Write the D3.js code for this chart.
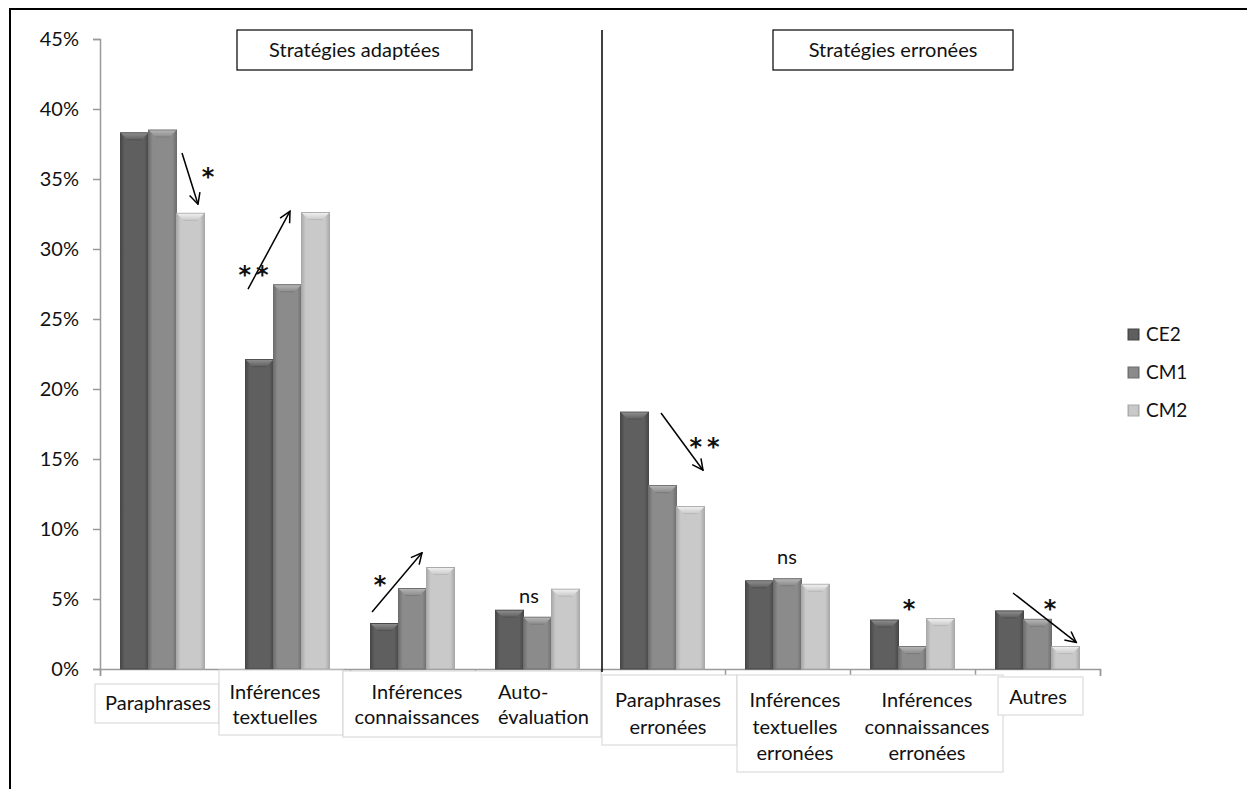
<!DOCTYPE html>
<html>
<head>
<meta charset="utf-8">
<script src="https://cdn.jsdelivr.net/npm/d3@7"></script>
<style>
  html, body { margin: 0; padding: 0; background: #fff; }
  svg { display: block; }
  text { font-family: Lato, "Open Sans", sans-serif; fill: #111; }
</style>
</head>
<body>
<svg id="chart" width="1247" height="789"></svg>
<script>
// ---------- data ----------
const categories = [
  ["Paraphrases"],
  ["Inférences", "textuelles"],
  ["Inférences", "connaissances"],
  ["Auto-", "évaluation"],
  ["Paraphrases", "erronées"],
  ["Inférences", "textuelles", "erronées"],
  ["Inférences", "connaissances", "erronées"],
  ["Autres"]
];
const seriesNames = ["CE2", "CM1", "CM2"];
const ce2 = [38.3, 22.1, 3.25, 4.2, 18.35, 6.3, 3.5, 4.15];
const cm1 = [38.5, 27.45, 5.75, 3.7, 13.1, 6.45, 1.6, 3.55];
const cm2 = [32.55, 32.6, 7.25, 5.7, 11.6, 6.05, 3.6, 1.6];
const yTicks = [0, 5, 10, 15, 20, 25, 30, 35, 40, 45];
const sectionTitles = ["Stratégies adaptées", "Stratégies erronées"];
// significance annotations (x in category units, y in %)
const arrows = [
  { x1: 0.656, v1: 36.86, x2: 0.784, v2: 33.2 },
  { x1: 1.184, v1: 27.14, x2: 1.52, v2: 32.7 },
  { x1: 2.176, v1: 4.07, x2: 2.576, v2: 8.3 },
  { x1: 4.488, v1: 18.29, x2: 4.824, v2: 14.2 },
  { x1: 7.304, v1: 5.43, x2: 7.81, v2: 1.9 }
];
const marks = [
  { x: 0.864, v: 35.6, t: "*" },
  { x: 1.248, v: 28.6, t: "**" },
  { x: 2.24, v: 6.5, t: "*" },
  { x: 3.432, v: 5.2, t: "ns" },
  { x: 4.856, v: 16.35, t: "**" },
  { x: 5.496, v: 8.0, t: "ns" },
  { x: 6.472, v: 4.8, t: "*" },
  { x: 7.6, v: 4.8, t: "*" }
];

// ---------- layout ----------
const values = [ce2, cm1, cm2];
const colors = { CE2: "#5f5f5f", CM1: "#8b8b8b", CM2: "#c9c9c9" };
const light  = { CE2: "#8c8c8c", CM1: "#b4b4b4", CM2: "#eeeeee" };
const dark   = { CE2: "#474747", CM1: "#6e6e6e", CM2: "#a9a9a9" };
const FS = "20px";

const svg = d3.select("#chart");
const X0 = 100, X1 = 1100, Y0 = 669, Y1 = 39;

const y = d3.scaleLinear().domain([0, 45]).range([Y0, Y1]);
const xCat = d3.scaleBand().domain(d3.range(categories.length)).range([X0, X1])
  .paddingInner(0.328).paddingOuter(0.164);
const xSer = d3.scaleBand().domain(seriesNames).range([0, xCat.bandwidth()]).padding(0);
const xLin = d3.scaleLinear().domain([0, categories.length]).range([X0, X1]);

// gradients
const defs = svg.append("defs");
seriesNames.forEach(s => {
  const g = defs.append("linearGradient").attr("id", "g" + s).attr("x1", "0").attr("x2", "1").attr("y1", "0").attr("y2", "0");
  g.append("stop").attr("offset", "0").attr("stop-color", dark[s]);
  g.append("stop").attr("offset", "0.15").attr("stop-color", colors[s]);
  g.append("stop").attr("offset", "0.85").attr("stop-color", colors[s]);
  g.append("stop").attr("offset", "1").attr("stop-color", dark[s]);
  const t = defs.append("linearGradient").attr("id", "t" + s).attr("x1", "0").attr("x2", "0").attr("y1", "0").attr("y2", "1");
  t.append("stop").attr("offset", "0").attr("stop-color", light[s]);
  t.append("stop").attr("offset", "1").attr("stop-color", colors[s]);
});
defs.append("marker").attr("id", "arr").attr("viewBox", "0 0 12 12")
  .attr("refX", 11).attr("refY", 6).attr("markerWidth", 13).attr("markerHeight", 13)
  .attr("markerUnits", "userSpaceOnUse").attr("orient", "auto")
  .append("path").attr("d", "M1,1 L11,6 L1,11").attr("fill", "none").attr("stroke", "#000").attr("stroke-width", 1.4);

// outer frame
svg.append("rect").attr("x", 10).attr("y", 9).attr("width", 1400).attr("height", 900)
  .attr("fill", "none").attr("stroke", "#000").attr("stroke-width", 2);

// y axis
const yAxis = svg.append("g").attr("transform", `translate(${X0},0)`)
  .call(d3.axisLeft(y).tickValues(yTicks).tickFormat(d => d + "%").tickSize(7).tickPadding(14));
yAxis.selectAll("path, line").attr("stroke", "#9a9a9a").attr("stroke-width", 1.5);
yAxis.selectAll("text").style("font-size", FS).style("font-family", "Lato, 'Open Sans', sans-serif").attr("fill", "#111");

// x axis (category boundaries)
const xAxis = svg.append("g").attr("transform", `translate(0,${Y0})`)
  .call(d3.axisBottom(xLin).tickValues(d3.range(categories.length + 1)).tickFormat("").tickSize(7));
xAxis.selectAll("path, line").attr("stroke", "#9a9a9a").attr("stroke-width", 1.5);

// bars
const bev = 7;
const groups = svg.append("g").selectAll("g").data(categories).join("g")
  .attr("transform", (d, i) => `translate(${xCat(i)},0)`);
groups.each(function (d, i) {
  const g = d3.select(this);
  seriesNames.forEach((s, si) => {
    const v = values[si][i];
    const x0 = xSer(s), w = xSer.bandwidth(), top = y(v);
    g.append("rect").attr("x", x0).attr("y", top).attr("width", w).attr("height", Y0 - top)
      .attr("fill", `url(#g${s})`).attr("stroke", dark[s]).attr("stroke-width", 1);
    g.append("path")
      .attr("d", `M${x0 + 0.5},${top + 0.5} L${x0 + w - 0.5},${top + 0.5} L${x0 + w - bev},${top + bev} L${x0 + bev},${top + bev} Z`)
      .attr("fill", `url(#t${s})`).attr("stroke", "none");
    g.append("line").attr("x1", x0 + bev).attr("x2", x0 + w - bev).attr("y1", top + bev).attr("y2", top + bev)
      .attr("stroke", dark[s]).attr("stroke-width", 1).attr("opacity", 0.5);
  });
});

// category label boxes
const labelBoxes = [
  { x: 95, y: 684, w: 124, h: 39 },
  { x: 219, y: 670, w: 124, h: 65 },
  { x: 343, y: 671, w: 258, h: 66 },
  { x: 602, y: 675, w: 135, h: 70 },
  { x: 737, y: 675, w: 266, h: 97 },
  { x: 998, y: 677, w: 85, h: 38 }
];
svg.append("g").selectAll("rect").data(labelBoxes).join("rect")
  .attr("x", d => d.x).attr("y", d => d.y).attr("width", d => d.w).attr("height", d => d.h)
  .attr("fill", "#fff").attr("stroke", "#d4d4d4").attr("stroke-width", 1);

const labelPos = [
  { cx: 158, cy: 703, anchor: "middle" },
  { cx: 275, cy: 692, anchor: "middle" },
  { cx: 417, cy: 692, anchor: "middle" },
  { cx: 498, cy: 692, anchor: "start" },
  { cx: 668, cy: 700, anchor: "middle" },
  { cx: 795, cy: 700, anchor: "middle" },
  { cx: 927, cy: 700, anchor: "middle" },
  { cx: 1038, cy: 697, anchor: "middle" }
];
const lab = svg.append("g").selectAll("text").data(categories).join("text")
  .attr("text-anchor", (d, i) => labelPos[i].anchor)
  .style("font-size", FS);
lab.each(function (d, i) {
  const p = labelPos[i];
  const lh = i >= 4 ? 26.5 : 25;
  d3.select(this).selectAll("tspan").data(d).join("tspan")
    .attr("x", p.cx).attr("y", (t, k) => p.cy + k * lh).attr("dy", "0.35em").text(t => t);
});

// divider
svg.append("line").attr("x1", 602).attr("x2", 602).attr("y1", 30).attr("y2", 672)
  .attr("stroke", "#000").attr("stroke-width", 1.5);

// section titles
const titleBoxes = [{ x: 237, y: 30, w: 235, h: 40 }, { x: 773, y: 30, w: 240, h: 40 }];
titleBoxes.forEach((b, i) => {
  svg.append("rect").attr("x", b.x).attr("y", b.y).attr("width", b.w).attr("height", b.h)
    .attr("fill", "#fff").attr("stroke", "#000").attr("stroke-width", 1.2);
  svg.append("text").attr("x", b.x + b.w / 2).attr("y", b.y + b.h / 2).attr("dy", "0.35em")
    .attr("text-anchor", "middle").style("font-size", FS).text(sectionTitles[i]);
});

// annotations
svg.append("g").selectAll("line").data(arrows).join("line")
  .attr("x1", d => xLin(d.x1)).attr("y1", d => y(d.v1))
  .attr("x2", d => xLin(d.x2)).attr("y2", d => y(d.v2))
  .attr("stroke", "#000").attr("stroke-width", 1.5).attr("marker-end", "url(#arr)");
svg.append("g").selectAll("text").data(marks).join("text")
  .attr("x", d => xLin(d.x)).attr("y", d => y(d.v))
  .attr("dy", d => d.t === "ns" ? "0.35em" : "0.62em")
  .attr("text-anchor", "middle")
  .style("font-family", d => d.t === "ns" ? "Lato, sans-serif" : "'DejaVu Sans', sans-serif")
  .style("font-weight", d => d.t === "ns" ? "normal" : "bold")
  .style("font-size", d => d.t === "ns" ? FS : "24px")
  .style("letter-spacing", d => d.t === "**" ? "5px" : "0px")
  .text(d => d.t);

// legend
const leg = svg.append("g").selectAll("g").data(seriesNames).join("g")
  .attr("transform", (d, i) => `translate(1128,${334 + i * 38})`);
leg.append("rect").attr("x", 0).attr("y", -5).attr("width", 11).attr("height", 11)
  .attr("fill", d => `url(#g${d})`).attr("stroke", d => dark[d]).attr("stroke-width", 1);
leg.append("text").attr("x", 18).attr("y", 0).attr("dy", "0.35em").style("font-size", "19px").text(d => d);
</script>
</body>
</html>
